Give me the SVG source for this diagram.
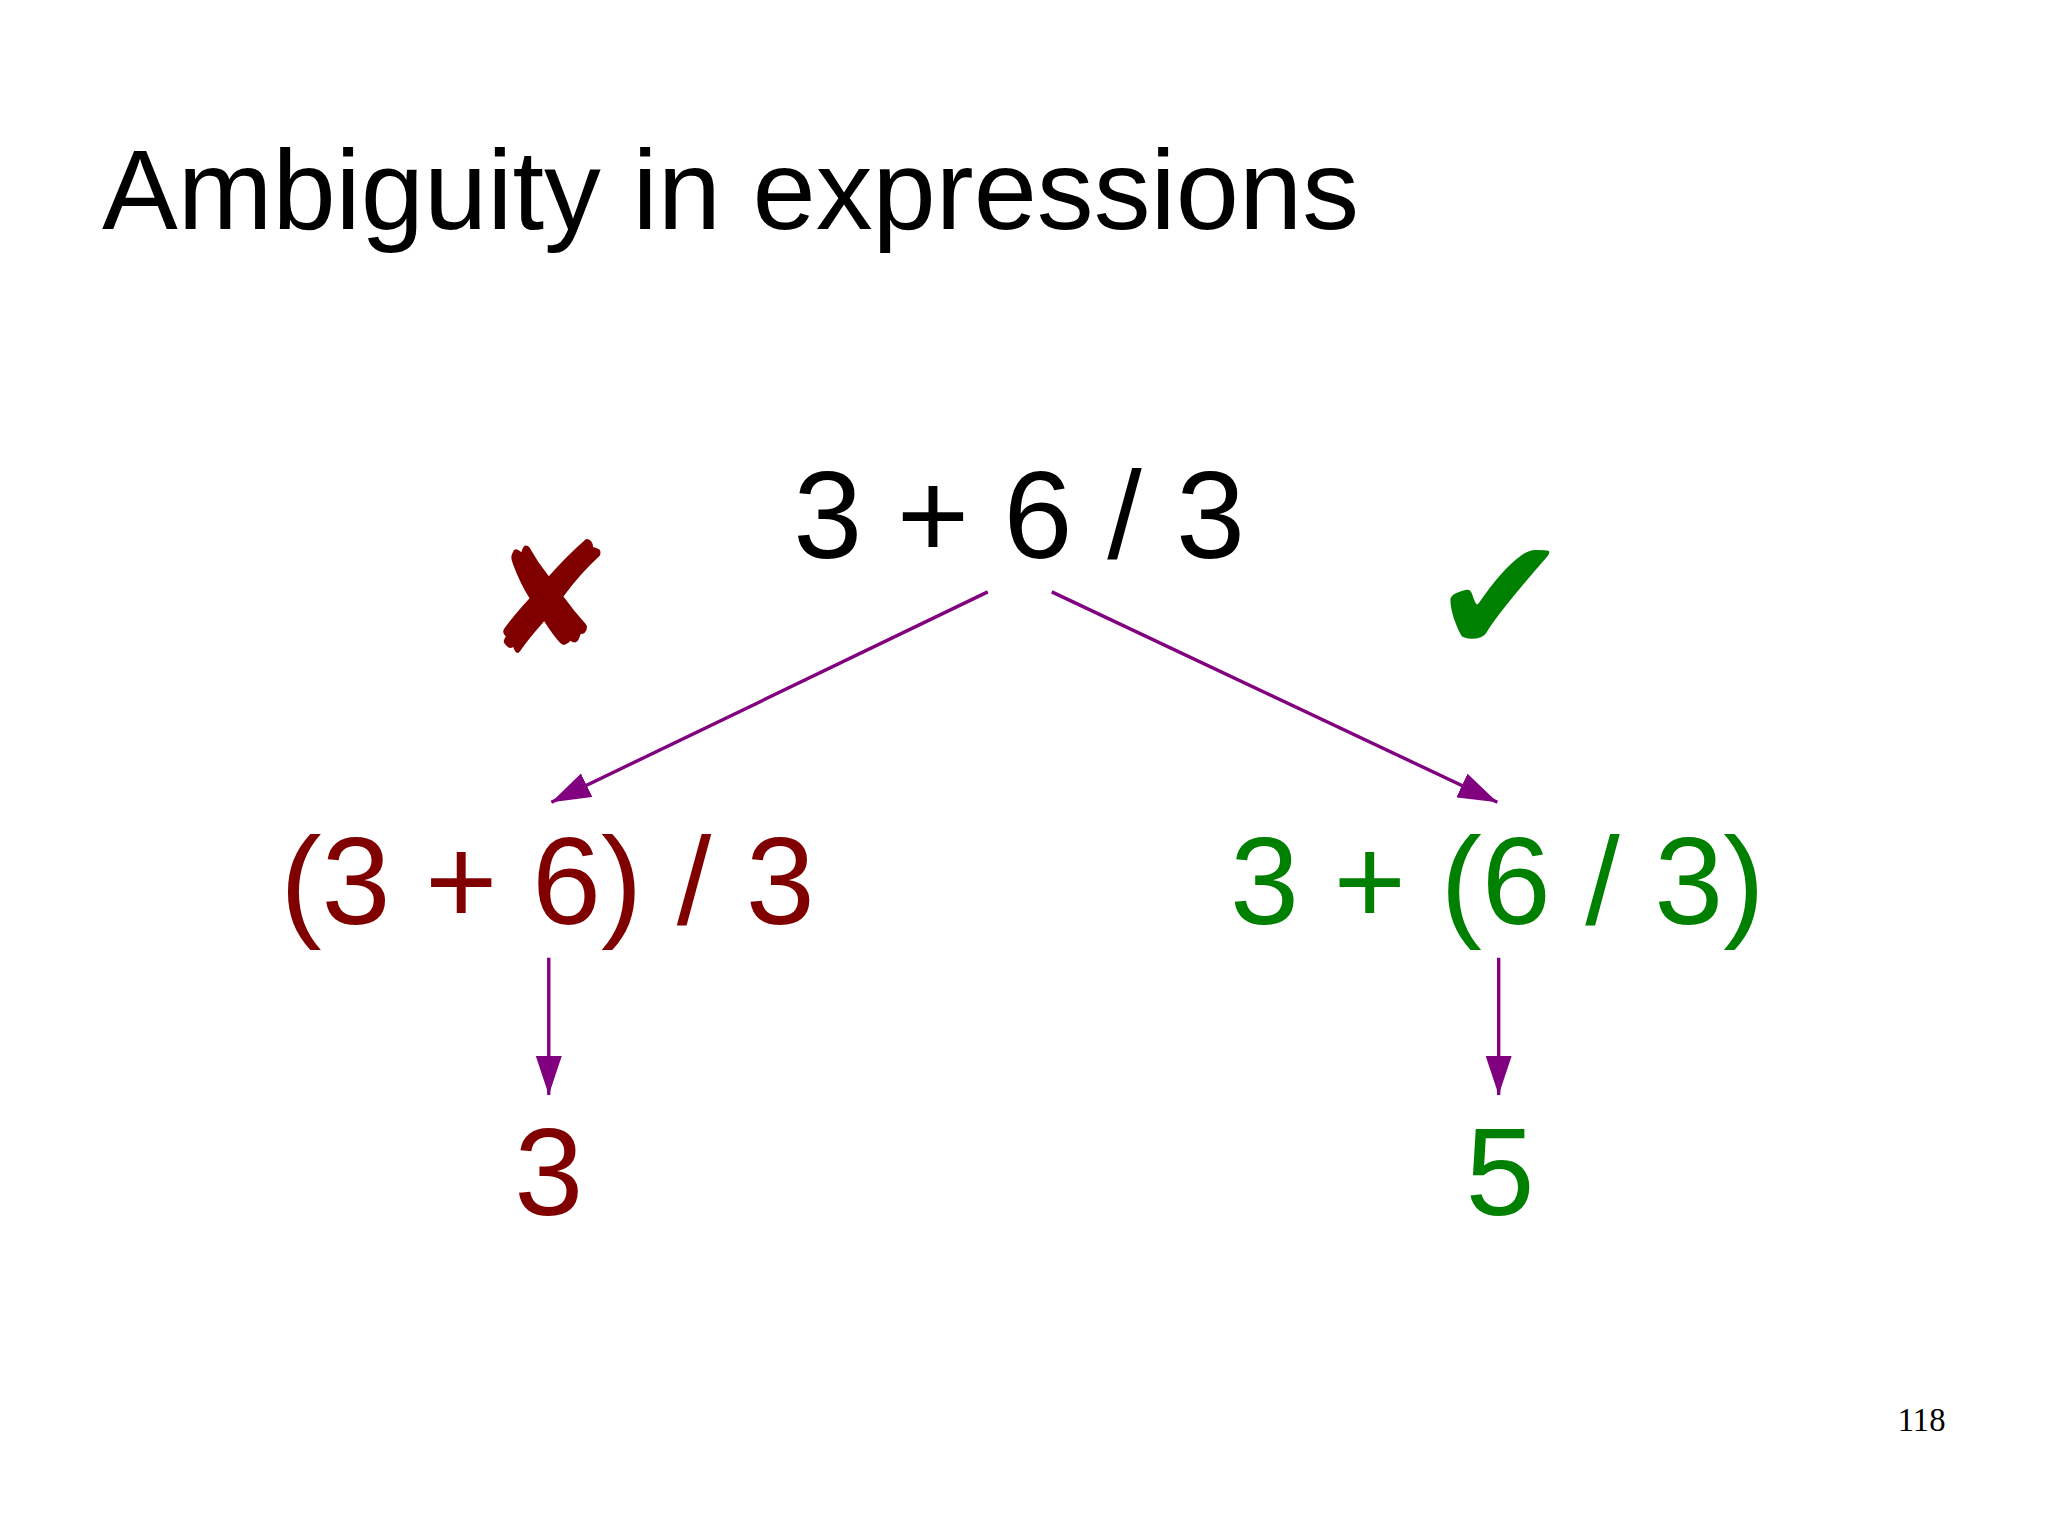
<svg xmlns="http://www.w3.org/2000/svg" width="2048" height="1535" viewBox="0 0 2048 1535">
<defs>
<style>
.t{font-family:"Liberation Sans",Arial,sans-serif;}
.red{fill:#800000}.grn{fill:#008000}
.c{stroke:#800080;stroke-width:2.6;fill:none}
</style>
<marker id="a" viewBox="0 0 30 20" refX="30" refY="10" markerWidth="30" markerHeight="20" markerUnits="userSpaceOnUse" orient="auto"><path d="M0,0 L30,10 L0,20 z" fill="#800080"/></marker>
</defs>
<rect width="2048" height="1535" fill="#fff"/>
<g transform="scale(1.3066)">
<g id="title"><text class="t" x="78" y="175" font-size="87">Ambiguity in expressions</text></g>
<g id="root"><text class="t" x="780" y="427" font-size="95" text-anchor="middle">3 + 6 / 3</text></g>
<g id="left"><text class="t red" x="419" y="707" font-size="95" text-anchor="middle">(3 + 6) / 3</text></g>
<g id="right"><text class="t grn" x="1146" y="707" font-size="95" text-anchor="middle">3 + (6 / 3)</text></g>
<g id="res3"><text class="t red" x="420" y="930" font-size="95" text-anchor="middle">3</text></g>
<g id="res5"><text class="t grn" x="1148" y="930" font-size="95" text-anchor="middle">5</text></g>
<g id="cross"><text x="420" y="500" font-family="DejaVu Sans,sans-serif" font-size="118" text-anchor="middle" class="red">✘</text></g>
<g id="check"><text x="1148" y="500" font-family="DejaVu Sans,sans-serif" font-size="125" text-anchor="middle" class="grn">✔</text></g>
<g id="page"><text x="1489" y="1095" font-family="Liberation Serif,serif" font-size="25" text-anchor="end">118</text></g>
<g id="connectors">
<line class="c" x1="756" y1="453" x2="422" y2="614" marker-end="url(#a)"/>
<line class="c" x1="805" y1="453" x2="1146" y2="614" marker-end="url(#a)"/>
<line class="c" x1="420" y1="733" x2="420" y2="838" marker-end="url(#a)"/>
<line class="c" x1="1147" y1="733" x2="1147" y2="838" marker-end="url(#a)"/>
</g>
</g>
</svg>
